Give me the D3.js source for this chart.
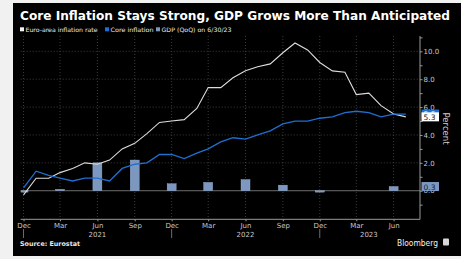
<!DOCTYPE html>
<html>
<head>
<meta charset="utf-8">
<script src="https://cdn.jsdelivr.net/npm/d3@7"></script>
<style>
  body { margin: 0; background: #f1f1f1; }
  svg { display: block; }
  text { font-family: "DejaVu Sans", sans-serif; }
</style>
</head>
<body>
<main></main>
<script>
// Euro-area HICP and core inflation, monthly, % y/y
const months = ["2020-12", "2021-01", "2021-02", "2021-03", "2021-04", "2021-05", "2021-06",
    "2021-07", "2021-08", "2021-09", "2021-10", "2021-11", "2021-12", "2022-01", "2022-02",
    "2022-03", "2022-04", "2022-05", "2022-06", "2022-07", "2022-08", "2022-09", "2022-10",
    "2022-11", "2022-12", "2023-01", "2023-02", "2023-03", "2023-04", "2023-05", "2023-06",
    "2023-07"]
const headline = [-0.3, 0.9, 0.9, 1.3, 1.6, 2.0, 1.9, 2.2, 3.0, 3.4, 4.1, 4.9, 5.0, 5.1, 5.9,
    7.4, 7.4, 8.1, 8.6, 8.9, 9.1, 9.9, 10.6, 10.1, 9.2, 8.6, 8.5, 6.9, 7.0, 6.1, 5.5, 5.3]
const core = [0.2, 1.4, 1.1, 0.9, 0.7, 0.9, 0.9, 0.7, 1.6, 1.9, 2.0, 2.6, 2.6, 2.3, 2.7,
    3.0, 3.5, 3.8, 3.7, 4.0, 4.3, 4.8, 5.0, 5.0, 5.2, 5.3, 5.6, 5.7, 5.6, 5.3, 5.5, 5.5]

// GDP QoQ, quarterly
const quarters = ["2020-12", "2021-03", "2021-06", "2021-09", "2021-12", "2022-03",
    "2022-06", "2022-09", "2022-12", "2023-03", "2023-06"]
const gdp = [-0.1, 0.1, 2.0, 2.2, 0.5, 0.6, 0.8, 0.4, -0.1, 0.0, 0.3]

// axis labels
const xTicks = ["2020-12", "2021-03", "2021-06", "2021-09", "2021-12", "2022-03",
    "2022-06", "2022-09", "2022-12", "2023-03", "2023-06"]
const yearLabels = ["2021", "2022", "2023"]
const yearLabelAt = ["2021-06", "2022-06", "2023-04"]
const yearBreaks = ["2020-12", "2021-12", "2022-12"]
const yTicks = [-1, 0, 1, 2, 3, 4, 5, 6, 7, 8, 9, 10, 11]
const yLabels = [0, 2, 4, 6, 8, 10]

const svgWidth = 461
const svgHeight = 259

const parse = d3.timeParse("%Y-%m")

const plotLeft = 20.7
const plotRight = 420
const plotTop = 36
const plotBottom = 219.3

const xScale = d3.scaleTime()
    .domain([new Date(2020, 10, 24), new Date(2023, 7, 5)])
    .range([plotLeft, plotRight])

const yScale = d3.scaleLinear()
    .domain([-2.05, 11.1])
    .range([plotBottom, plotTop])

let svg = d3.select("main")
    .append("svg")
    .attr("width", svgWidth)
    .attr("height", svgHeight)

svg.append("rect")
    .attr("x", 13).attr("y", 3)
    .attr("width", svgWidth - 13).attr("height", 253)
    .attr("fill", "black")

// title + legend
svg.append("text")
    .attr("x", 20).attr("y", 20)
    .attr("fill", "white")
    .style("font-weight", "bold")
    .style("font-size", "13px")
    .attr("textLength", 430)
    .attr("lengthAdjust", "spacingAndGlyphs")
    .text("Core Inflation Stays Strong, GDP Grows More Than Anticipated")

const legend = [
    { label: "Euro-area inflation rate", color: "#f2f2f2", x: 20, w: 72 },
    { label: "Core inflation", color: "#1f6fd6", x: 105, w: 43 },
    { label: "GDP (QoQ) on 6/30/23", color: "#7d98c0", x: 156, w: 70 }
]
let lg = svg.append("g")
lg.selectAll("rect").data(legend).enter().append("rect")
    .attr("x", d => d.x).attr("y", 27.3)
    .attr("width", 4).attr("height", 4)
    .attr("fill", d => d.color)
lg.selectAll("text").data(legend).enter().append("text")
    .attr("x", d => d.x + 5.5).attr("y", 31.6)
    .attr("fill", "#e8e8e8")
    .style("font-size", "6px")
    .attr("textLength", d => d.w)
    .attr("lengthAdjust", "spacingAndGlyphs")
    .text(d => d.label)

// grid
let grid = svg.append("g")
grid.selectAll(".hg").data(yLabels.filter(v => v !== 0)).enter().append("line")
    .attr("x1", plotLeft).attr("x2", plotRight)
    .attr("y1", d => yScale(d)).attr("y2", d => yScale(d))
    .attr("stroke", "#4a4a4a").attr("stroke-width", 0.8)
    .attr("stroke-dasharray", "1,2")
grid.selectAll(".vg").data(xTicks).enter().append("line")
    .attr("x1", d => xScale(parse(d))).attr("x2", d => xScale(parse(d)))
    .attr("y1", plotTop).attr("y2", plotBottom)
    .attr("stroke", "#4a4a4a").attr("stroke-width", 0.8)
    .attr("stroke-dasharray", "1,2")

// zero line
svg.append("line")
    .attr("x1", plotLeft).attr("x2", plotRight)
    .attr("y1", yScale(0)).attr("y2", yScale(0))
    .attr("stroke", "#8a8a8a").attr("stroke-width", 0.8)

svg.append("clipPath").attr("id", "plot")
    .append("rect")
    .attr("x", plotLeft).attr("y", plotTop)
    .attr("width", plotRight - plotLeft).attr("height", plotBottom - plotTop)

let plot = svg.append("g").attr("clip-path", "url(#plot)")

// GDP bars (a zero quarter draws nothing)
plot.selectAll("rect.gdp").data(gdp.map((v, i) => ({ q: quarters[i], v: v })).filter(d => d.v !== 0))
    .enter().append("rect")
    .attr("class", "gdp")
    .attr("x", d => xScale(parse(d.q)) - 4.5)
    .attr("y", d => yScale(Math.max(0, d.v)))
    .attr("width", 9)
    .attr("height", d => Math.abs(yScale(d.v) - yScale(0)))
    .attr("fill", "#7d98c0")
    .attr("stroke", "#9bb2d4").attr("stroke-width", 0.4)

const line = d3.line()
    .x((d, i) => xScale(parse(months[i])))
    .y(d => yScale(d))

plot.append("path").datum(headline)
    .attr("d", line)
    .attr("fill", "none")
    .attr("stroke", "#dcdcdc").attr("stroke-width", 1.1)

plot.append("path").datum(core)
    .attr("d", line)
    .attr("fill", "none")
    .attr("stroke", "#1f6fd0").attr("stroke-width", 1.3)

// right axis
let rightAxis = d3.axisRight(yScale)
    .tickValues(yTicks)
    .tickSize(2.5)
    .tickFormat(d => yLabels.includes(d) ? d3.format(".1f")(d) : "")

let yAxis = svg.append("g")
    .attr("transform", `translate(${plotRight}, 0)`)
    .call(rightAxis)
yAxis.select(".domain").attr("d", `M0,${plotTop}V${plotBottom}`).attr("stroke", "#9a9a9a")
yAxis.selectAll("line").attr("stroke", "#9a9a9a")
yAxis.selectAll("text")
    .attr("x", 3.5)
    .attr("fill", "#c8c8c8")
    .style("font-size", "7px")
    .style("font-family", "DejaVu Sans")

svg.append("text")
    .attr("transform", "translate(443, 128.5) rotate(90)")
    .attr("text-anchor", "middle")
    .attr("fill", "#d0d0d0")
    .style("font-size", "8.5px")
    .text("Percent")

// bottom axis
let bottomAxis = d3.axisBottom(xScale)
    .tickValues(xTicks.map(parse))
    .tickSize(2)
    .tickFormat(d3.timeFormat("%b"))

let xAxis = svg.append("g")
    .attr("transform", `translate(0, ${plotBottom})`)
    .call(bottomAxis)
xAxis.select(".domain").attr("d", `M${plotLeft},0H${plotRight}`).attr("stroke", "#9a9a9a")
xAxis.selectAll("line").attr("stroke", "#9a9a9a")
xAxis.selectAll("text")
    .attr("y", 3.5)
    .attr("fill", "#c8c8c8")
    .style("font-size", "7px")
    .style("font-family", "DejaVu Sans")

svg.selectAll(".yr").data(yearLabels).enter().append("text")
    .attr("x", (d, i) => xScale(parse(yearLabelAt[i])))
    .attr("y", 237)
    .attr("text-anchor", "middle")
    .attr("fill", "#c8c8c8")
    .style("font-size", "7px")
    .text(d => d)

svg.selectAll(".yb").data(yearBreaks).enter().append("line")
    .attr("x1", d => xScale(parse(d))).attr("x2", d => xScale(parse(d)))
    .attr("y1", 229).attr("y2", 238)
    .attr("stroke", "#8a8a8a").attr("stroke-width", 0.8)

// last value labels
const lastLabels = [
    { v: core[core.length - 1], fill: "#1f6fd0", text: "#ffffff" },
    { v: headline[headline.length - 1], fill: "#ffffff", text: "#111111" },
    { v: gdp[gdp.length - 1], fill: "#7d98c0", text: "#10203a" }
]
let tags = svg.selectAll(".tag").data(lastLabels).enter().append("g")
    .attr("transform", d => `translate(${plotRight + 1.5}, ${yScale(d.v)})`)
tags.append("rect")
    .attr("x", 0).attr("y", -4.5)
    .attr("width", 17.5).attr("height", 9)
    .attr("fill", d => d.fill)
tags.append("text")
    .attr("x", 2).attr("y", 3)
    .attr("fill", d => d.text)
    .style("font-size", "7.5px")
    .text(d => d3.format(".1f")(d.v))

// footer
svg.append("text")
    .attr("x", 20).attr("y", 246)
    .attr("fill", "#e8e8e8")
    .style("font-weight", "bold")
    .style("font-size", "6.5px")
    .attr("textLength", 60)
    .attr("lengthAdjust", "spacingAndGlyphs")
    .text("Source: Eurostat")

svg.append("text")
    .attr("x", 397).attr("y", 245.5)
    .attr("fill", "#f0f0f0")
    .style("font-size", "8.5px")
    .attr("textLength", 41)
    .attr("lengthAdjust", "spacingAndGlyphs")
    .text("Bloomberg")
svg.append("rect")
    .attr("x", 443).attr("y", 238.5)
    .attr("width", 6).attr("height", 7)
    .attr("rx", 1)
    .attr("fill", "#d8d8d8")
</script>
</body>
</html>
